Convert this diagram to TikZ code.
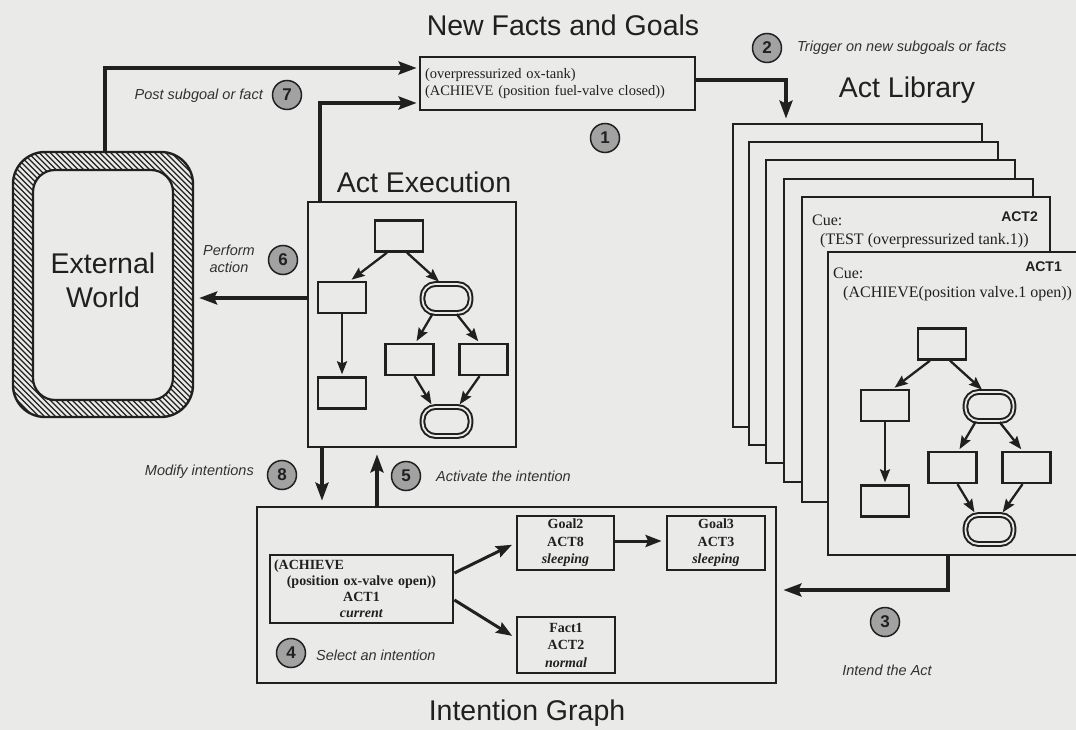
\documentclass[tikz,border=0pt]{standalone}
\usepackage{fontspec}
\setmainfont{Liberation Serif}
\setsansfont{Liberation Sans}
\usetikzlibrary{arrows.meta}

\definecolor{paper}{RGB}{234,234,232}
\definecolor{ink}{RGB}{32,32,32}
\definecolor{inkl}{RGB}{50,50,50}
\definecolor{disc}{RGB}{162,162,162}

% one small act plan: boxes, double ovals and their arrows
\newcommand\actgraph[3]{%
  \node[gbox]  (#1-t)  at ({#2+24},{#3+16}) {};
  \node[gbox]  (#1-l)  at ({#2-33},{#3+77.5}) {};
  \node[goval] (#1-o)  at ({#2+71.5},{#3+78.5}) {};
  \node[gbox]  (#1-ml) at ({#2+34.5},{#3+139.5}) {};
  \node[gbox]  (#1-mr) at ({#2+108.5},{#3+139.5}) {};
  \node[gbox]  (#1-bl) at ({#2-33},{#3+173}) {};
  \node[goval] (#1-bo) at ({#2+71.5},{#3+201.5}) {};
  \draw[garrow] ([xshift=-12pt]#1-t.south) -- ([xshift=8pt]#1-l.north);
  \draw[garrow] ([xshift=8pt]#1-t.south) -- ([xshift=-6pt]#1-o.north);
  \draw[garrow] (#1-l.south) -- (#1-bl.north);
  \draw[garrow] ([xshift=-14pt]#1-o.south) -- ([xshift=6pt]#1-ml.north);
  \draw[garrow] ([xshift=10pt]#1-o.south) -- ([xshift=-4pt]#1-mr.north);
  \draw[garrow] ([xshift=5pt]#1-ml.south) -- ([xshift=-14pt]#1-bo.north);
  \draw[garrow] ([xshift=-4pt]#1-mr.south) -- ([xshift=12pt]#1-bo.north);
}

\begin{document}
\begin{tikzpicture}[x=1pt,y=-1pt,
  heading/.style={font=\sffamily\fontsize{28.5}{34}\selectfont, text=ink, inner sep=0pt},
  note/.style={font=\sffamily\itshape\fontsize{14.5}{17}\selectfont, text=inkl, inner sep=0pt},
  badge/.style={circle, draw=ink, fill=disc, line width=1.5pt, minimum size=29pt, inner sep=0pt,
    font=\sffamily\bfseries\fontsize{17}{17}\selectfont, text=ink},
  panel/.style={draw=ink, line width=2.8pt, fill=paper, inner sep=0pt},
  cue/.style={font=\fontsize{16}{18}\selectfont, text=ink, inner sep=0pt},
  acttag/.style={font=\sffamily\bfseries\fontsize{14}{16}\selectfont, text=ink, inner sep=0pt},
  ibox/.style={draw=ink, line width=2.8pt, fill=paper, inner sep=0pt, align=center,
    font=\bfseries\fontsize{14}{17.5}\selectfont, text=ink},
  gbox/.style={draw=ink, line width=2.3pt, fill=paper, inner sep=0pt, minimum width=48pt, minimum height=31pt},
  goval/.style={draw=ink, line width=2pt, double=paper, double distance=1.8pt, fill=paper,
    rounded corners=13pt, inner sep=0pt, minimum width=48pt, minimum height=29pt},
  conn/.style={draw=ink, line width=3.4pt, -{Stealth[length=18pt,width=13pt,inset=3pt]}},
  iarrow/.style={draw=ink, line width=3pt, -{Stealth[length=16pt,width=12pt,inset=2.5pt]}},
  garrow/.style={draw=ink, line width=2.3pt, -{Stealth[length=13pt,width=10pt,inset=2pt]}, shorten >=2pt},
]
\useasboundingbox (0,0) rectangle (1076,730);
\fill[paper] (0,0) rectangle (1076,730);

% ---- External World: hatched rounded frame
\begin{scope}
  \clip[rounded corners=32pt] (13,152) rectangle (193,417);
  \foreach \k in {-48,...,36} \draw[ink, line width=1.2pt] ({\k*5.5},152) -- ++(265,265);
\end{scope}
\filldraw[fill=paper, draw=ink, line width=2.2pt, rounded corners=22pt] (33,170) rectangle (173,400);
\node[draw=ink, line width=2.4pt, rounded corners=32pt, minimum width=180pt, minimum height=265pt,
      inner sep=0pt] (world) at (103,284.5) {};
\node[heading, align=center] (worldname) at (103,280) {External\\World};

% ---- New facts and goals
\node[heading] (factstitle) at (563,25) {New Facts and Goals};
\node[panel, minimum width=275pt, minimum height=53pt, inner xsep=5pt, text width=265pt, align=left,
      font=\fontsize{14.5}{17}\selectfont, text=ink] (facts) at (557.5,83.5)
      {(overpressurized ox-tank)\\(ACHIEVE (position fuel-valve closed))};

% ---- Act library: a stack of act cards
\node[heading] (libtitle) at (907,90) {Act Library};
\node[panel, minimum width=249pt, minimum height=303pt] (lib1) at (857.5,275.5) {};
\node[panel, minimum width=249pt, minimum height=303pt] (lib2) at (873.5,293.5) {};
\node[panel, minimum width=249pt, minimum height=303pt] (lib3) at (890.5,311.5) {};
\node[panel, minimum width=249pt, minimum height=303pt] (lib4) at (908.5,330.5) {};
\node[panel, minimum width=248pt, minimum height=305pt] (lib5) at (926,349.5) {};
\node[cue, anchor=west] (cue2) at (812,220) {Cue:};
\node[cue, anchor=west] (trig2) at (820,241) {(TEST (overpressurized tank.1))};
\node[acttag, anchor=east] (tag2) at (1038,217) {ACT2};
\node[panel, minimum width=262pt, minimum height=303pt] (act1) at (959,403.5) {};
\node[cue, anchor=west] (cue1) at (833,273) {Cue:};
\node[cue, anchor=west] (trig1) at (843,294) {(ACHIEVE(position valve.1 open))};
\node[acttag, anchor=east] (tag1) at (1062,267) {ACT1};
\actgraph{lg}{918}{328}

% ---- Act execution
\node[heading] (exectitle) at (424,182) {Act Execution};
\node[panel, minimum width=208pt, minimum height=245pt] (exec) at (412,324.5) {};
\actgraph{eg}{375}{220}

% ---- Intention graph
\node[heading] (inttitle) at (527,713) {Intention Graph};
\node[panel, minimum width=519pt, minimum height=176pt] (intent) at (516.5,595) {};
\node[ibox, minimum width=183pt, minimum height=68pt, text width=175pt,
      font=\bfseries\fontsize{14}{16}\selectfont] (ach) at (361.5,589)
      {\makebox[175pt][l]{(ACHIEVE}\\(position ox-valve open))\\ACT1\\\textit{current}};
\node[ibox, minimum width=97pt, minimum height=54pt] (goal2) at (565.5,543) {Goal2\\ACT8\\\textit{sleeping}};
\node[ibox, minimum width=98pt, minimum height=54pt] (goal3) at (716,543) {Goal3\\ACT3\\\textit{sleeping}};
\node[ibox, minimum width=98pt, minimum height=56pt] (fact1) at (566,645) {Fact1\\ACT2\\\textit{normal}};
\draw[iarrow, shorten >=4pt] ([yshift=16pt]ach.east) -- (goal2.west);
\draw[iarrow, shorten >=4pt] ([yshift=-11pt]ach.east) -- ([yshift=7pt]fact1.west);
\draw[iarrow, shorten >=4pt] ([yshift=2pt]goal2.east) -- ([yshift=2pt]goal3.west);

% ---- main cycle connectors
\draw[conn, shorten >=2pt] ([xshift=2pt]world.north) |- ([yshift=15.5pt]facts.west);
\draw[conn, shorten >=2pt] ([xshift=-92pt]exec.north) |- ([yshift=-19.5pt]facts.west);
\draw[conn, shorten >=4pt] ([yshift=3.5pt]facts.east) -| ([xshift=-71.5pt]lib1.north);
\draw[conn, shorten >=6pt] ([xshift=-11pt]act1.south) |- ([yshift=5pt]intent.east);
\draw[conn, shorten >=5pt] ([yshift=26.5pt]exec.west) -- ([yshift=-13.5pt]world.east);
\draw[conn, shorten >=5pt] ([xshift=-90pt]exec.south) -- ([xshift=-90pt]exec.south |- intent.north);
\draw[conn, shorten >=6pt] ([xshift=-35pt]exec.south |- intent.north) -- ([xshift=-35pt]exec.south);

% ---- numbered steps and their captions
\node[badge] (s1) at (605,138) {1};
\node[badge] (s2) at (767,48) {2};
\node[note, anchor=west] (t2) at (797,48) {Trigger on new subgoals or facts};
\node[badge] (s3) at (885,622) {3};
\node[note] (t3) at (887,670) {Intend the Act};
\node[badge] (s4) at (291,653) {4};
\node[note, anchor=west] (t4) at (316,655) {Select an intention};
\node[badge] (s5) at (406,476) {5};
\node[note, anchor=west] (t5) at (436,476) {Activate the intention};
\node[badge] (s6) at (283,260) {6};
\node[note, align=center] (t6) at (229,259) {Perform\\action};
\node[badge] (s7) at (287,95) {7};
\node[note, anchor=east] (t7) at (263,96) {Post subgoal or fact};
\node[badge] (s8) at (282,475) {8};
\node[note, anchor=east] (t8) at (254,472) {Modify intentions};
\end{tikzpicture}
\end{document}
